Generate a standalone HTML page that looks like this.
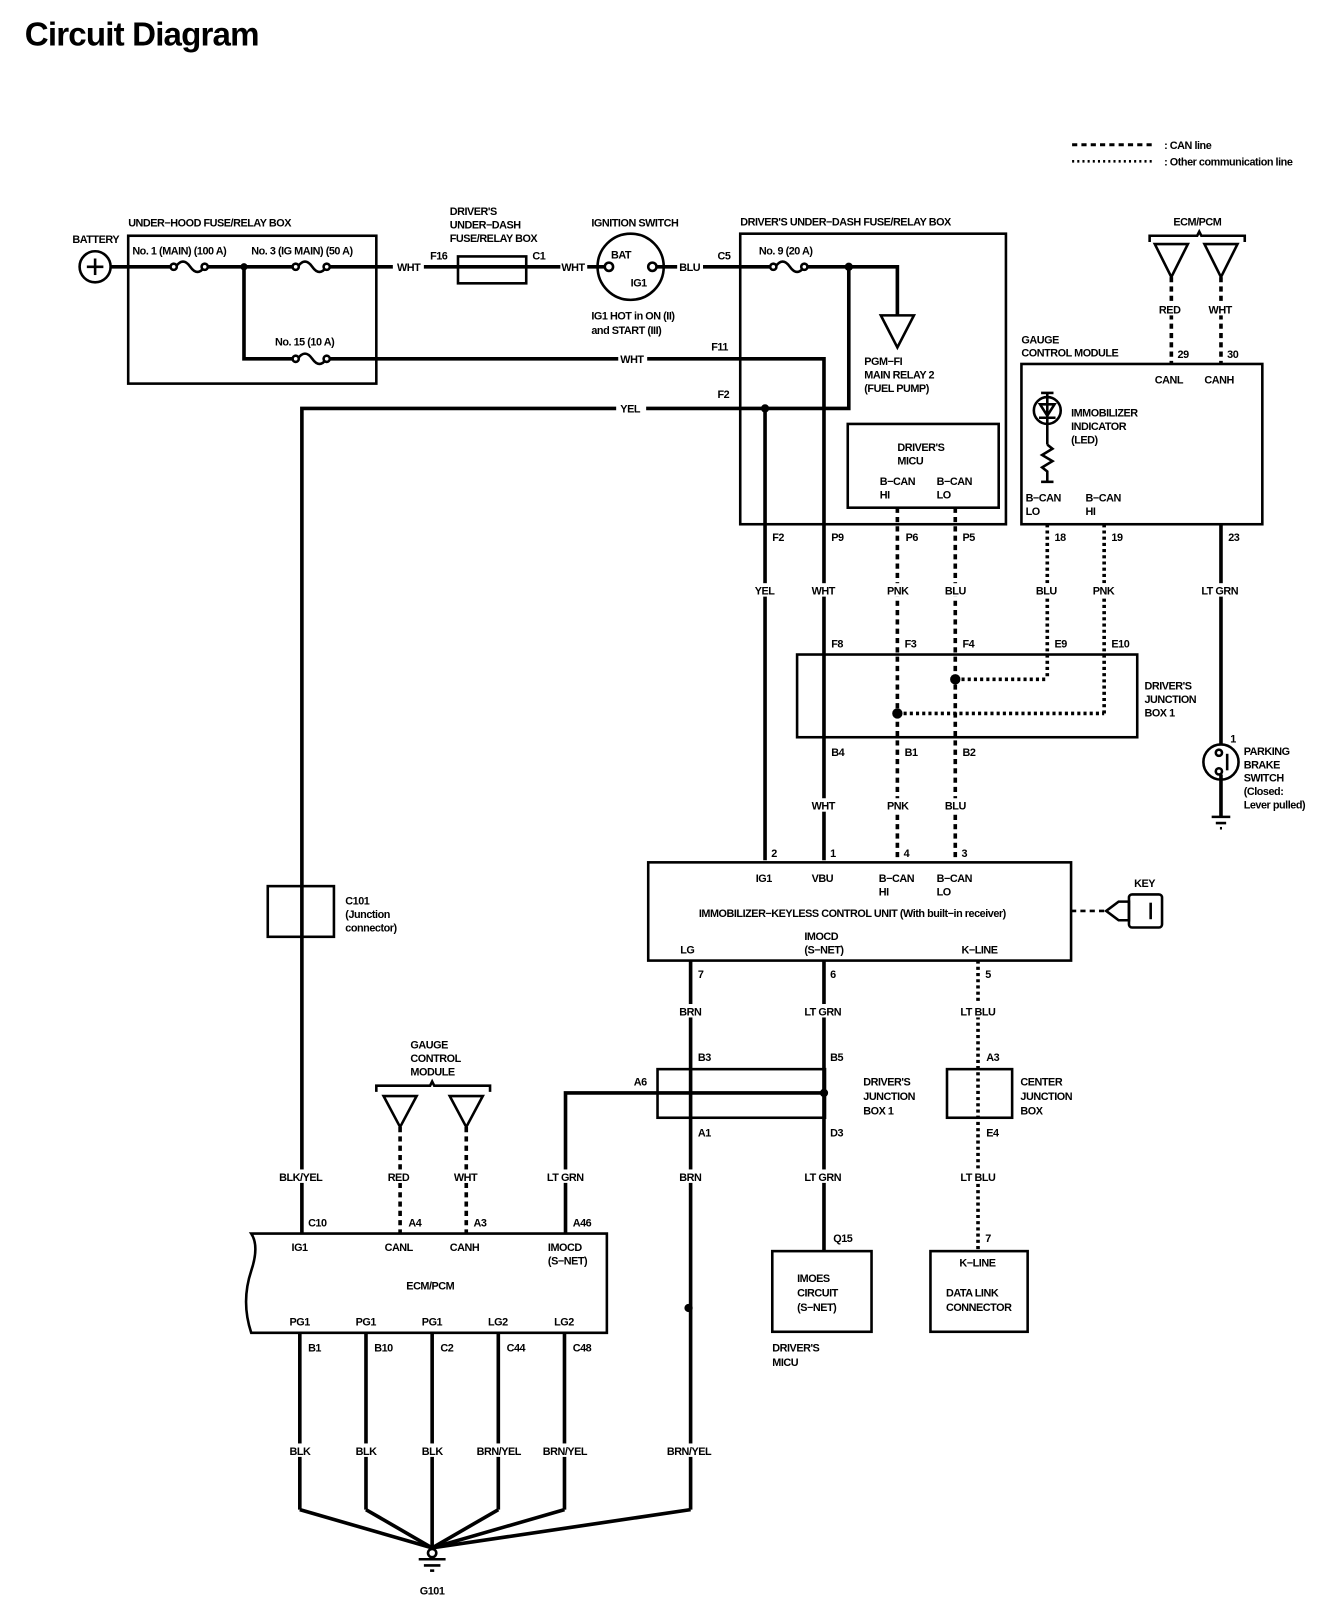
<!DOCTYPE html>
<html><head><meta charset="utf-8"><style>
html,body{margin:0;padding:0;background:#fff;}
svg{display:block;}
text{font-family:"Liberation Sans Narrow","Liberation Sans",sans-serif;font-weight:bold;font-size:10.5px;letter-spacing:-0.45px;fill:#000;}
.w{stroke:#000;stroke-width:3.5;fill:none;}
.b{stroke:#000;stroke-width:2.5;fill:none;}
.d{stroke:#000;stroke-width:3.5;fill:none;stroke-dasharray:5 4;}
.o{stroke:#000;stroke-width:3.5;fill:none;stroke-dasharray:3 3;}
.t{stroke:#000;stroke-width:2.5;fill:#fff;}
</style></head><body>
<svg width="1344" height="1612" viewBox="0 0 1300 1559" preserveAspectRatio="none" xmlns="http://www.w3.org/2000/svg">
<text x="24" y="44" style="font-family:'Liberation Sans',sans-serif;font-size:32px;font-weight:bold;letter-spacing:-0.8px">Circuit Diagram</text>
<!-- legend -->
<line class="d" x1="1037" y1="140" x2="1117" y2="140" style="stroke-width:3"/>
<line class="o" x1="1037" y1="156" x2="1117" y2="156" style="stroke-width:2.5;stroke-dasharray:2 3"/>
<text x="1126" y="144">: CAN line</text>
<text x="1126" y="160">: Other communication line</text>

<!-- battery -->
<circle cx="92" cy="258" r="15" class="b"/>
<line x1="84" y1="258" x2="100" y2="258" class="b"/><line x1="92" y1="250" x2="92" y2="266" class="b"/>
<text x="70" y="235">BATTERY</text>
<!-- under-hood box -->
<rect x="124" y="228" width="240" height="143" class="b"/>
<text x="124" y="219">UNDER−HOOD FUSE/RELAY BOX</text>
<text x="128" y="246">No. 1 (MAIN) (100 A)</text>
<text x="243" y="246">No. 3 (IG MAIN) (50 A)</text>
<text x="266" y="334">No. 15 (10 A)</text>
<line class="w" x1="107" y1="258" x2="165" y2="258"/>
<path class="b" d="M170 258 q7 -10 14 0 q7 10 14 0"/><circle cx="168" cy="258" r="3" class="t"/><circle cx="198" cy="258" r="3" class="t"/>
<line class="w" x1="201" y1="258" x2="284" y2="258"/>
<path class="b" d="M288 258 q7 -10 14 0 q7 10 14 0"/><circle cx="286" cy="258" r="3" class="t"/><circle cx="316" cy="258" r="3" class="t"/>
<line class="w" x1="319" y1="258" x2="380" y2="258"/>
<circle cx="236" cy="258" r="3.5"/>
<polyline class="w" points="236,258 236,347 284,347"/>
<path class="b" d="M288 347 q7 -10 14 0 q7 10 14 0"/><circle cx="286" cy="347" r="3" class="t"/><circle cx="316" cy="347" r="3" class="t"/>
<line class="w" x1="319" y1="347" x2="598" y2="347"/>
<text x="600" y="351">WHT</text>
<polyline class="w" points="626,347 797,347 797,832"/>
<text x="688" y="339">F11</text>
<text x="384" y="262">WHT</text>
<line class="w" x1="410" y1="258" x2="443" y2="258"/>
<rect x="443" y="248" width="66" height="26" class="b"/>
<line class="w" x1="443" y1="258" x2="509" y2="258"/>
<text x="435" y="208">DRIVER'S</text><text x="435" y="221">UNDER−DASH</text><text x="435" y="234">FUSE/RELAY BOX</text>
<text x="416" y="251">F16</text><text x="515" y="251">C1</text>
<line class="w" x1="509" y1="258" x2="542" y2="258"/>
<text x="543" y="262">WHT</text>
<line class="w" x1="568" y1="258" x2="585" y2="258"/>
<!-- ignition -->
<circle cx="610" cy="258" r="32" class="b"/>
<circle cx="589" cy="258" r="4" class="t"/><circle cx="631" cy="258" r="4" class="t"/>
<text x="591" y="250">BAT</text><text x="610" y="277">IG1</text>
<text x="572" y="219">IGNITION SWITCH</text>
<text x="572" y="309">IG1 HOT in ON (II)</text><text x="572" y="323">and START (III)</text>
<line class="w" x1="635" y1="258" x2="655" y2="258"/>
<text x="657" y="262">BLU</text>
<line class="w" x1="680" y1="258" x2="745" y2="258"/>
<text x="694" y="251">C5</text>
<!-- driver's under-dash box -->
<rect x="716" y="226" width="257" height="281" class="b"/>
<text x="716" y="218">DRIVER'S UNDER−DASH FUSE/RELAY BOX</text>
<text x="734" y="246">No. 9 (20 A)</text>
<path class="b" d="M750 258 q7 -10 14 0 q7 10 14 0"/><circle cx="748" cy="258" r="3" class="t"/><circle cx="778" cy="258" r="3" class="t"/>
<polyline class="w" points="781,258 868,258 868,305"/>
<circle cx="821" cy="258" r="4"/>
<polygon class="t" points="852,305 884,305 868,336"/>
<text x="836" y="353">PGM−FI</text><text x="836" y="366">MAIN RELAY 2</text><text x="836" y="379">(FUEL PUMP)</text>
<polyline class="w" points="821,258 821,395 625,395"/>
<text x="600" y="399">YEL</text>
<polyline class="w" points="596,395 292,395 292,1193"/>
<text x="694" y="385">F2</text>
<circle cx="740" cy="395" r="4"/>
<line class="w" x1="740" y1="395" x2="740" y2="832"/>
<rect x="820" y="410" width="146" height="81" class="b"/>
<text x="868" y="436">DRIVER'S</text><text x="868" y="449">MICU</text>
<text x="851" y="469">B−CAN</text><text x="851" y="482">HI</text>
<text x="906" y="469">B−CAN</text><text x="906" y="482">LO</text>
<line class="d" x1="868" y1="491" x2="868" y2="832"/>
<line class="d" x1="924" y1="491" x2="924" y2="832"/>
<text x="747" y="523">F2</text><text x="804" y="523">P9</text><text x="876" y="523">P6</text><text x="931" y="523">P5</text>
<rect x="727" y="564" width="26" height="13" fill="#fff"/><text x="730" y="575">YEL</text>
<rect x="782" y="564" width="30" height="13" fill="#fff"/><text x="785" y="575">WHT</text>
<rect x="855" y="564" width="28" height="13" fill="#fff"/><text x="858" y="575">PNK</text>
<rect x="911" y="564" width="28" height="13" fill="#fff"/><text x="914" y="575">BLU</text>
<!-- ECM/PCM top right -->
<path class="b" d="M1112 234 v-6 h46 l2 -4 l2 4 h42 v6"/>
<text x="1135" y="218">ECM/PCM</text>
<polygon class="t" points="1117,236 1149,236 1133,268"/>
<polygon class="t" points="1165,236 1197,236 1181,268"/>
<line class="d" x1="1133" y1="268" x2="1133" y2="352"/>
<line class="d" x1="1181" y1="268" x2="1181" y2="352"/>
<rect x="1118" y="292" width="30" height="13" fill="#fff"/><text x="1121" y="303">RED</text>
<rect x="1166" y="292" width="30" height="13" fill="#fff"/><text x="1169" y="303">WHT</text>
<text x="1139" y="346">29</text><text x="1187" y="346">30</text>
<text x="988" y="332">GAUGE</text><text x="988" y="345">CONTROL MODULE</text>
<rect x="988" y="352" width="233" height="155" class="b"/>
<text x="1117" y="371">CANL</text><text x="1165" y="371">CANH</text>
<circle cx="1013" cy="397" r="13" class="b"/>
<polygon class="b" points="1006,391 1020,391 1013,402"/><line x1="1005" y1="404" x2="1021" y2="404" class="b"/>
<line x1="1013" y1="380" x2="1013" y2="430" class="b"/><line x1="1007" y1="380" x2="1019" y2="380" class="b"/>
<path class="b" d="M1013 430 l5 4 l-10 6 l10 6 l-10 6 l5 4 v10"/><line x1="1007" y1="466" x2="1019" y2="466" class="b"/>
<text x="1036" y="403">IMMOBILIZER</text><text x="1036" y="416">INDICATOR</text><text x="1036" y="429">(LED)</text>
<text x="992" y="485">B−CAN</text><text x="992" y="498">LO</text>
<text x="1050" y="485">B−CAN</text><text x="1050" y="498">HI</text>
<line class="o" x1="1013" y1="507" x2="1013" y2="657"/>
<line class="o" x1="1068" y1="507" x2="1068" y2="690"/>
<line class="w" x1="1181" y1="507" x2="1181" y2="720"/>
<text x="1020" y="523">18</text><text x="1075" y="523">19</text><text x="1188" y="523">23</text>
<rect x="1000" y="564" width="28" height="13" fill="#fff"/><text x="1002" y="575">BLU</text>
<rect x="1055" y="564" width="28" height="13" fill="#fff"/><text x="1057" y="575">PNK</text>
<rect x="1160" y="564" width="42" height="13" fill="#fff"/><text x="1162" y="575">LT GRN</text>
<!-- junction box 1 -->
<rect x="771" y="633" width="329" height="80" class="b"/>
<text x="1107" y="667">DRIVER'S</text><text x="1107" y="680">JUNCTION</text><text x="1107" y="693">BOX 1</text>
<text x="804" y="626">F8</text><text x="875" y="626">F3</text><text x="931" y="626">F4</text><text x="1020" y="626">E9</text><text x="1075" y="626">E10</text>
<text x="804" y="731">B4</text><text x="875" y="731">B1</text><text x="931" y="731">B2</text>
<circle cx="924" cy="657" r="5"/><circle cx="868" cy="690" r="5"/>
<line class="o" x1="924" y1="657" x2="1013" y2="657"/>
<line class="o" x1="868" y1="690" x2="1068" y2="690"/>
<rect x="782" y="772" width="30" height="13" fill="#fff"/><text x="785" y="783">WHT</text>
<rect x="855" y="772" width="28" height="13" fill="#fff"/><text x="858" y="783">PNK</text>
<rect x="911" y="772" width="28" height="13" fill="#fff"/><text x="914" y="783">BLU</text>
<!-- parking brake -->
<circle cx="1181" cy="737" r="17" class="b"/>
<circle cx="1179" cy="728" r="3" class="t"/><circle cx="1179" cy="746" r="3" class="t"/>
<line x1="1187" y1="729" x2="1187" y2="745" class="b"/>
<line class="w" x1="1181" y1="749" x2="1181" y2="790"/>
<line x1="1172" y1="790" x2="1190" y2="790" class="b"/><line x1="1176" y1="796" x2="1186" y2="796" class="b"/><line x1="1180" y1="801" x2="1182" y2="801" class="b"/>
<text x="1190" y="718">1</text>
<text x="1203" y="730">PARKING</text><text x="1203" y="743">BRAKE</text><text x="1203" y="756">SWITCH</text><text x="1203" y="769">(Closed:</text><text x="1203" y="782">Lever pulled)</text>
<!-- immobilizer unit -->
<rect x="627" y="834" width="409" height="95" class="b"/>
<text x="746" y="829">2</text><text x="803" y="829">1</text><text x="874" y="829">4</text><text x="930" y="829">3</text>
<text x="731" y="853">IG1</text><text x="785" y="853">VBU</text>
<text x="850" y="853">B−CAN</text><text x="850" y="866">HI</text>
<text x="906" y="853">B−CAN</text><text x="906" y="866">LO</text>
<text x="676" y="887">IMMOBILIZER−KEYLESS CONTROL UNIT (With built−in receiver)</text>
<text x="778" y="909">IMOCD</text><text x="778" y="922">(S−NET)</text>
<text x="658" y="922">LG</text><text x="930" y="922">K−LINE</text>
<line x1="1036" y1="881" x2="1070" y2="881" class="b" stroke-dasharray="5 4"/>
<path class="b" d="M1070 881 l12 -9 h10 v18 h-10 z"/>
<rect x="1092" y="865" width="32" height="32" rx="3" class="b"/>
<line x1="1113" y1="873" x2="1113" y2="889" class="b" stroke-width="3"/>
<text x="1097" y="858">KEY</text>
<!-- lower wires -->
<text x="675" y="946">7</text><text x="803" y="946">6</text><text x="953" y="946">5</text>
<line class="w" x1="668" y1="929" x2="668" y2="1460"/>
<line class="w" x1="797" y1="929" x2="797" y2="1210"/>
<line class="o" x1="946" y1="929" x2="946" y2="1210"/>
<rect x="654" y="971" width="30" height="13" fill="#fff"/><text x="657" y="982">BRN</text>
<rect x="776" y="971" width="42" height="13" fill="#fff"/><text x="778" y="982">LT GRN</text>
<rect x="927" y="971" width="38" height="13" fill="#fff"/><text x="929" y="982">LT BLU</text>
<rect x="636" y="1034" width="162" height="47" class="b"/>
<text x="835" y="1050">DRIVER'S</text><text x="835" y="1064">JUNCTION</text><text x="835" y="1078">BOX 1</text>
<text x="675" y="1026">B3</text><text x="803" y="1026">B5</text><text x="675" y="1099">A1</text><text x="803" y="1099">D3</text>
<text x="613" y="1050">A6</text>
<polyline class="w" points="547,1193 547,1057 797,1057"/><circle cx="797" cy="1057" r="4"/>
<rect x="916" y="1034" width="63" height="47" class="b"/>
<text x="987" y="1050">CENTER</text><text x="987" y="1064">JUNCTION</text><text x="987" y="1078">BOX</text>
<text x="954" y="1026">A3</text><text x="954" y="1099">E4</text>
<rect x="654" y="1131" width="30" height="13" fill="#fff"/><text x="657" y="1142">BRN</text>
<rect x="776" y="1131" width="42" height="13" fill="#fff"/><text x="778" y="1142">LT GRN</text>
<rect x="927" y="1131" width="38" height="13" fill="#fff"/><text x="929" y="1142">LT BLU</text>
<rect x="527" y="1131" width="42" height="13" fill="#fff"/><text x="529" y="1142">LT GRN</text>
<rect x="268" y="1131" width="46" height="13" fill="#fff"/><text x="270" y="1142">BLK/YEL</text>
<!-- gauge triangles lower -->
<path class="b" d="M364 1056 v-6 h52 l2 -4 l2 4 h54 v6"/>
<text x="397" y="1014">GAUGE</text><text x="397" y="1027">CONTROL</text><text x="397" y="1040">MODULE</text>
<polygon class="t" points="371,1060 403,1060 387,1090"/>
<polygon class="t" points="435,1060 467,1060 451,1090"/>
<line class="d" x1="387" y1="1090" x2="387" y2="1193"/>
<line class="d" x1="451" y1="1090" x2="451" y2="1193"/>
<rect x="373" y="1131" width="28" height="13" fill="#fff"/><text x="375" y="1142">RED</text>
<rect x="437" y="1131" width="30" height="13" fill="#fff"/><text x="439" y="1142">WHT</text>
<!-- C101 -->
<rect x="259" y="857" width="64" height="49" class="b"/>
<text x="334" y="875">C101</text><text x="334" y="888">(Junction</text><text x="334" y="901">connector)</text>
<!-- ECM/PCM -->
<path class="b" d="M587 1193 H243 q8 12 0 36 q-10 30 0 60 H587 Z"/>
<text x="298" y="1186">C10</text><text x="395" y="1186">A4</text><text x="458" y="1186">A3</text><text x="554" y="1186">A46</text>
<text x="282" y="1210">IG1</text><text x="372" y="1210">CANL</text><text x="435" y="1210">CANH</text>
<text x="530" y="1210">IMOCD</text><text x="530" y="1223">(S−NET)</text>
<text x="393" y="1247">ECM/PCM</text>
<text x="280" y="1282">PG1</text><text x="344" y="1282">PG1</text><text x="408" y="1282">PG1</text><text x="472" y="1282">LG2</text><text x="536" y="1282">LG2</text>
<text x="298" y="1307">B1</text><text x="362" y="1307">B10</text><text x="426" y="1307">C2</text><text x="490" y="1307">C44</text><text x="554" y="1307">C48</text>
<line class="w" x1="290" y1="1289" x2="290" y2="1460"/>
<line class="w" x1="354" y1="1289" x2="354" y2="1460"/>
<line class="w" x1="418" y1="1289" x2="418" y2="1497"/>
<line class="w" x1="482" y1="1289" x2="482" y2="1460"/>
<line class="w" x1="546" y1="1289" x2="546" y2="1460"/>
<circle cx="666" cy="1265" r="4"/>
<rect x="276" y="1396" width="28" height="13" fill="#fff"/><text x="280" y="1407">BLK</text>
<rect x="340" y="1396" width="28" height="13" fill="#fff"/><text x="344" y="1407">BLK</text>
<rect x="404" y="1396" width="28" height="13" fill="#fff"/><text x="408" y="1407">BLK</text>
<rect x="460" y="1396" width="46" height="13" fill="#fff"/><text x="461" y="1407">BRN/YEL</text>
<rect x="524" y="1396" width="46" height="13" fill="#fff"/><text x="525" y="1407">BRN/YEL</text>
<rect x="644" y="1396" width="46" height="13" fill="#fff"/><text x="645" y="1407">BRN/YEL</text>
<polyline class="w" points="290,1460 418,1497"/>
<polyline class="w" points="354,1460 418,1497"/>
<polyline class="w" points="482,1460 418,1497"/>
<polyline class="w" points="546,1460 418,1497"/>
<polyline class="w" points="668,1460 418,1497"/>
<circle cx="418" cy="1502" r="4" class="t"/>
<line x1="405" y1="1508" x2="431" y2="1508" class="b"/><line x1="410" y1="1514" x2="426" y2="1514" class="b"/><line x1="416" y1="1519" x2="420" y2="1519" class="b"/>
<text x="406" y="1542">G101</text>
<!-- IMOES -->
<rect x="747" y="1210" width="96" height="78" class="b"/>
<text x="806" y="1201">Q15</text>
<text x="771" y="1240">IMOES</text><text x="771" y="1254">CIRCUIT</text><text x="771" y="1268">(S−NET)</text>
<text x="747" y="1307">DRIVER'S</text><text x="747" y="1321">MICU</text>
<rect x="900" y="1210" width="94" height="78" class="b"/>
<text x="953" y="1201">7</text>
<text x="928" y="1225">K−LINE</text>
<text x="915" y="1254">DATA LINK</text><text x="915" y="1268">CONNECTOR</text>
</svg>
</body></html>
